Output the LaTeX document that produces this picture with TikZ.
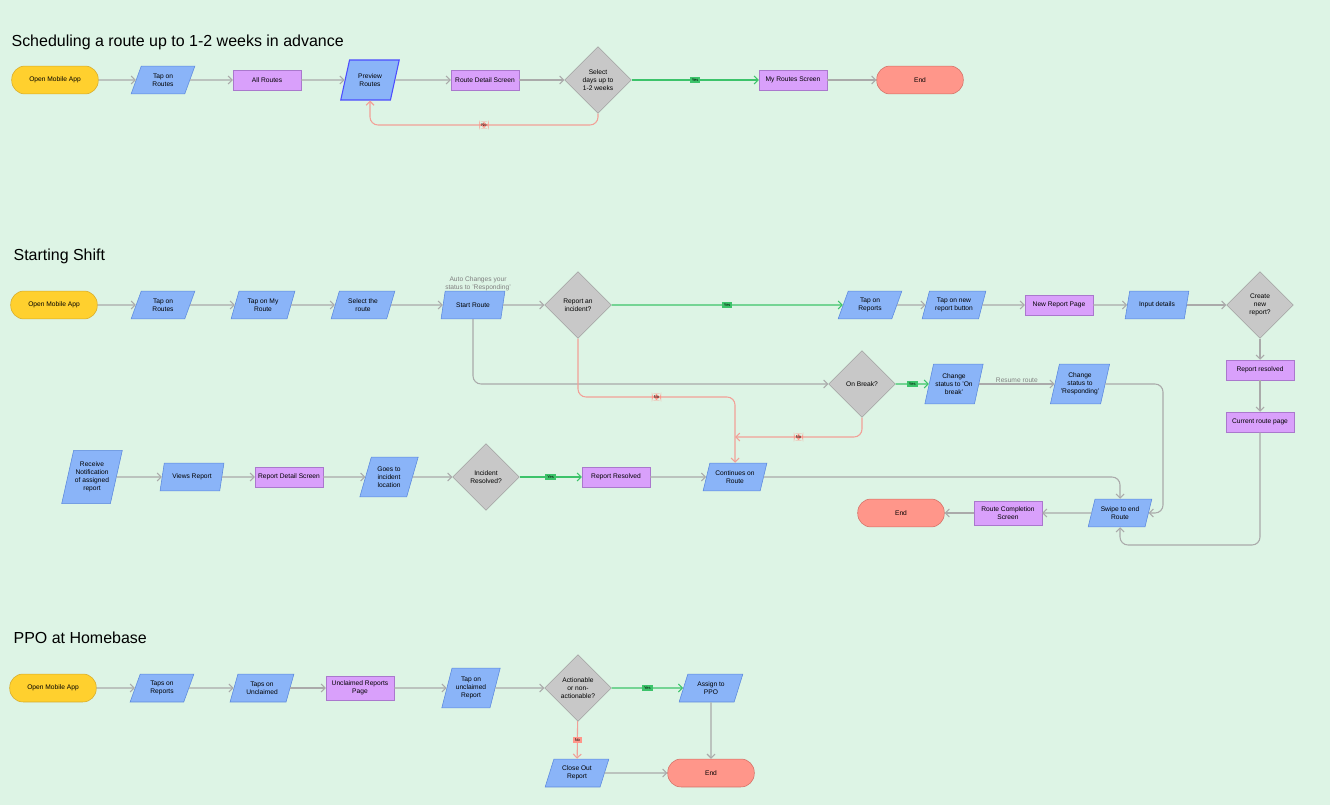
\documentclass[tikz,border=0pt]{standalone}
\usepackage{fontspec}
\setmainfont{Liberation Sans}
\usetikzlibrary{arrows.meta,shapes.geometric}
\definecolor{bg}{RGB}{221,244,229}
\definecolor{yel}{RGB}{255,208,46}
\definecolor{yelb}{RGB}{214,170,40}
\definecolor{blu}{RGB}{138,180,248}
\definecolor{blub}{RGB}{90,135,220}
\definecolor{pur}{RGB}{217,160,251}
\definecolor{purb}{RGB}{170,120,205}
\definecolor{gry}{RGB}{200,200,200}
\definecolor{gryb}{RGB}{160,160,160}
\definecolor{redf}{RGB}{255,150,138}
\definecolor{redb}{RGB}{210,110,100}
\definecolor{grn}{RGB}{60,195,106}
\definecolor{line}{RGB}{170,170,170}
\definecolor{nol}{RGB}{242,160,151}

\begin{document}
\begin{tikzpicture}[x=0.0264cm,y=-0.0264cm,
    every node/.style={font=\fontsize{5}{6}\selectfont,align=center,inner sep=1pt},
    term/.style={draw=yelb,fill=yel,rounded corners=10pt,minimum width=65pt,minimum height=21pt},
    fin/.style={term,draw=redb,fill=redf},
    io/.style={trapezium,trapezium left angle=70,trapezium right angle=110,trapezium stretches=true,
               draw=blub,fill=blu,minimum width=48pt,minimum height=21pt},
    tall/.style={io,minimum width=44pt,minimum height=30pt},
    page/.style={rectangle,draw=purb,fill=pur,minimum width=51pt,minimum height=15pt},
    ask/.style={diamond,aspect=1,draw=gryb,fill=gry,minimum size=50pt,inner sep=0pt},
    go/.style={draw=line,thick,-{Straight Barb[length=3pt]}},
    yes/.style={draw=grn,thick,-{Straight Barb[length=3pt]}},
    no/.style={draw=nol,thick,-{Straight Barb[length=3pt]}},
    ylab/.style={fill=grn,font=\fontsize{3}{3}\selectfont,inner sep=1.5pt},
    nlab/.style={fill=redf,font=\fontsize{3}{3}\selectfont,inner sep=1.5pt},
    title/.style={font=\fontsize{12}{14}\selectfont,anchor=west}]
\fill[bg] (0,0) rectangle (1330,805);
\useasboundingbox (0,0) rectangle (1330,805);

% scheduling
\node[title] at (10,42) {Scheduling a route up to 1-2 weeks in advance};
\node[term] (s1) at (55,80) {Open Mobile App};
\node[io] (s2) at (163,80) {Tap on\\Routes};
\node[page] (s3) at (267,80) {All Routes};
\node[tall,draw=blue!70,thick] (s4) at (370,80) {Preview\\Routes};
\node[page] (s5) at (485,80) {Route Detail Screen};
\node[ask] (s6) at (598,80) {Select\\days up to\\1-2 weeks};
\node[page] (s7) at (793,80) {My Routes Screen};
\node[fin] (s8) at (920,80) {End};
\draw[go] (s1) -- (s2);
\draw[go] (s2) -- (s3);
\draw[go] (s3) -- (s4);
\draw[go] (s4) -- (s5);
\draw[go] (s5) -- (s6);
\draw[yes] (s6) -- node[ylab] {Yes} (s7);
\draw[go] (s7) -- (s8);
\draw[no,rounded corners=6pt] (s6.south) |- node[nlab,pos=0.75] {No} (s4.south |- 0,125) -- (s4.south);

% starting shift
\node[title] at (12,256) {Starting Shift};
\node[term] (a1) at (54,305) {Open Mobile App};
\node[io] (a2) at (163,305) {Tap on\\Routes};
\node[io] (a3) at (263,305) {Tap on My\\Route};
\node[io] (a4) at (363,305) {Select the\\route};
\node[io] (a5) at (473,305) {Start Route};
\node[text=gray,anchor=south] (note) at (478,292) {Auto Changes your\\status to 'Responding'};
\node[ask] (a6) at (578,305) {Report an\\incident?};
\node[io] (a7) at (870,305) {Tap on\\Reports};
\node[io] (a8) at (954,305) {Tap on new\\report button};
\node[page] (a9) at (1059,305) {New Report Page};
\node[io] (a10) at (1157,305) {Input details};
\node[ask] (a11) at (1260,305) {Create\\new\\report?};
\node[page] (a12) at (1260,370) {Report resolved};
\node[page] (a13) at (1260,422) {Current route page};
\node[ask] (b1) at (862,384) {On Break?};
\node[tall] (b2) at (954,384) {Change\\status to 'On\\break'};
\node[tall] (b3) at (1080,384) {Change\\status to\\'Responding'};
\node[tall,minimum height=40pt] (c1) at (92,477) {Receive\\Notification\\of assigned\\report};
\node[io] (c2) at (192,477) {Views Report};
\node[page] (c3) at (289,477) {Report Detail Screen};
\node[tall] (c4) at (389,477) {Goes to\\incident\\location};
\node[ask] (c5) at (486,477) {Incident\\Resolved?};
\node[page] (c6) at (616,477) {Report Resolved};
\node[io] (c7) at (735,477) {Continues on\\Route};
\node[io] (d1) at (1120,513) {Swipe to end\\Route};
\node[page,minimum height=18pt] (d2) at (1008,513) {Route Completion\\Screen};
\node[fin] (d3) at (901,513) {End};
\draw[go] (a1) -- (a2);
\draw[go] (a2) -- (a3);
\draw[go] (a3) -- (a4);
\draw[go] (a4) -- (a5);
\draw[go] (a5) -- (a6);
\draw[yes] (a6) -- node[ylab] {Yes} (a7);
\draw[go] (a7) -- (a8);
\draw[go] (a8) -- (a9);
\draw[go] (a9) -- (a10);
\draw[go] (a10) -- (a11);
\draw[go] (a11) -- (a12);
\draw[go] (a12) -- (a13);
\draw[go,rounded corners=6pt] (a5.south) |- (b1.west);
\draw[yes] (b1) -- node[ylab] {Yes} (b2);
\draw[go] (b2) -- node[above,text=gray] {Resume route} (b3);
\draw[go,rounded corners=6pt] (b3.east) -- (1163,384) |- (d1.east);
\draw[no,rounded corners=6pt] (a6.south) |- node[nlab,pos=0.75] {No} (735,397) -- (c7.north);
\draw[no,rounded corners=6pt] (b1.south) |- node[nlab,pos=0.75] {No} (735,437);
\draw[go] (c1) -- (c2);
\draw[go] (c2) -- (c3);
\draw[go] (c3) -- (c4);
\draw[go] (c4) -- (c5);
\draw[yes] (c5) -- node[ylab] {Yes} (c6);
\draw[go] (c6) -- (c7);
\draw[go,rounded corners=6pt] (c7.east) -| (d1.north);
\draw[go] (d1) -- (d2);
\draw[go] (d2) -- (d3);
\draw[go,rounded corners=6pt] (a13.south) |- (1120,545) -- (d1.south);

% ppo
\node[title] at (12,638) {PPO at Homebase};
\node[term] (p1) at (53,688) {Open Mobile App};
\node[io] (p2) at (162,688) {Taps on\\Reports};
\node[io] (p3) at (262,688) {Taps on\\Unclaimed};
\node[page,minimum height=18pt] (p4) at (360,688) {Unclaimed Reports\\Page};
\node[tall] (p5) at (471,688) {Tap on\\unclaimed\\Report};
\node[ask] (p6) at (578,688) {Actionable\\or non-\\actionable?};
\node[io] (p7) at (711,688) {Assign to\\PPO};
\node[io] (p8) at (577,773) {Close Out\\Report};
\node[fin] (p9) at (711,773) {End};
\draw[go] (p1) -- (p2);
\draw[go] (p2) -- (p3);
\draw[go] (p3) -- (p4);
\draw[go] (p4) -- (p5);
\draw[go] (p5) -- (p6);
\draw[yes] (p6) -- node[ylab] {Yes} (p7);
\draw[no] (p6) -- node[nlab] {No} (p8);
\draw[go] (p7) -- (p9);
\draw[go] (p8) -- (p9);
\end{tikzpicture}
\end{document}
